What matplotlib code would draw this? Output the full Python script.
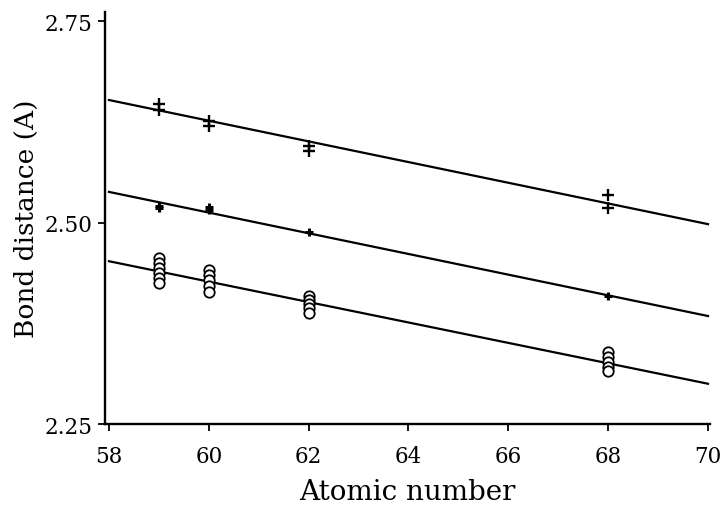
import matplotlib
matplotlib.use("Agg")
import matplotlib.pyplot as plt

# Data
fit_x = [58, 70]
top_fit = [2.652, 2.498]
mid_fit = [2.538, 2.384]
low_fit = [2.452, 2.300]

top_x = [59, 59, 60, 60, 62, 62, 68, 68]
top_y = [2.647, 2.640, 2.626, 2.620, 2.595, 2.589, 2.534, 2.518]

mid_x = [59, 59, 60, 60, 62, 68]
mid_y = [2.520, 2.518, 2.519, 2.515, 2.488, 2.409]

low_x = [59, 59, 59, 59, 59, 59, 60, 60, 60, 60, 60,
         62, 62, 62, 62, 62, 68, 68, 68, 68, 68]
low_y = [2.456, 2.450, 2.444, 2.437, 2.431, 2.425,
         2.441, 2.435, 2.429, 2.421, 2.414,
         2.409, 2.404, 2.399, 2.394, 2.388,
         2.339, 2.333, 2.327, 2.321, 2.316]

x_ticks = [58, 60, 62, 64, 66, 68, 70]
x_ticklabels = ["58", "60", "62", "64", "66", "68", "70"]
y_ticks = [2.25, 2.50, 2.75]
y_ticklabels = ["2.25", "2.50", "2.75"]

plt.rcParams['font.family'] = ['DejaVu Serif']

fig = plt.figure(figsize=(7.22, 5.06), dpi=100)
ax = fig.add_axes([0.1454, 0.160, 0.838, 0.814])

for fy in (top_fit, mid_fit, low_fit):
    ax.plot(fit_x, fy, color='black', lw=1.6)

ax.plot(top_x, top_y, linestyle='none', marker='+', ms=9, mew=1.7, color='black')
ax.plot(mid_x, mid_y, linestyle='none', marker='+', ms=6, mew=2.2, color='black')
ax.plot(low_x, low_y, linestyle='none', marker='o', ms=7.5, mfc='white', mec='black', mew=1.3)

ax.set_xlim(57.92, 70.04)
ax.set_ylim(2.25, 2.761)
ax.set_xticks(x_ticks)
ax.set_xticklabels(x_ticklabels)
ax.set_yticks(y_ticks)
ax.set_yticklabels(y_ticklabels)

for s in ('top', 'right'):
    ax.spines[s].set_visible(False)
for s in ('left', 'bottom'):
    ax.spines[s].set_linewidth(1.7)

ax.tick_params(direction='out', length=5, width=1.3, labelsize=15.5, pad=4)
ax.tick_params(axis='x', pad=10)

ax.set_xlabel("Atomic number", fontsize=20, labelpad=8)
ax.set_ylabel("Bond distance (A)", fontsize=19, labelpad=4)

fig.savefig("out.png", dpi=100)
